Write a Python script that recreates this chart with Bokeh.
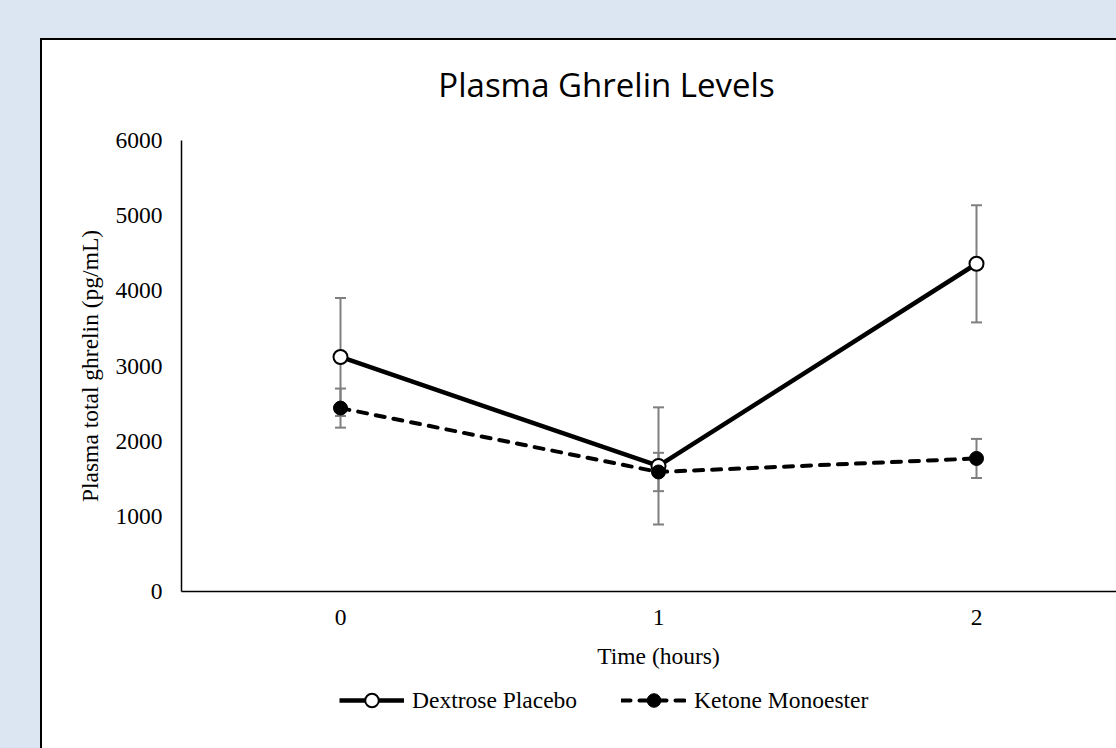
from bokeh.plotting import figure
from bokeh.models import (FactorRange, Range1d, FixedTicker, Whisker, TeeHead,
                          ColumnDataSource, Legend, LegendItem, Div, Spacer)
from bokeh.layouts import column
from bokeh.embed import file_html
from bokeh.resources import INLINE

# ---- data ----
title_text = "Plasma Ghrelin Levels"
series_names = ["Dextrose Placebo", "Ketone Monoester"]
time_labels = ["0", "1", "2"]
placebo_mean = [3120, 1670, 4360]
placebo_err = [785, 780, 780]
ketone_mean = [2440, 1590, 1770]
ketone_err = [260, 255, 260]
y_ticks = [0, 1000, 2000, 3000, 4000, 5000, 6000]

SERIF = "Liberation Serif"
FS = "23.5px"
FIG_W = 1119

title_div = Div(text=title_text, width=FIG_W, height=70,
                styles={"font-family": "'Open Sans'", "font-size": "33px",
                        "text-align": "center", "line-height": "60px",
                        "padding-top": "10px",
                        "color": "black", "background-color": "white"})

p = figure(x_range=FactorRange(*time_labels), y_range=Range1d(0, 6000),
           frame_width=954, frame_height=451,
           min_border_left=139, min_border_top=20, min_border_right=26,
           min_border_bottom=95,
           output_backend="svg", toolbar_location=None,
           background_fill_color="white", border_fill_color=None)
p.outline_line_color = None
p.grid.visible = False

# axes
for ax in (p.xaxis, p.yaxis):
    ax.axis_line_color = "black"
    ax.axis_line_width = 1.5
    ax.major_tick_line_color = None
    ax.minor_tick_line_color = None
    ax.major_tick_out = 0
    ax.major_tick_in = 0
    ax.major_label_text_font = SERIF
    ax.major_label_text_font_size = FS
    ax.major_label_text_color = "black"
    ax.axis_label_text_font = SERIF
    ax.axis_label_text_font_size = FS
    ax.axis_label_text_font_style = "normal"
    ax.axis_label_text_color = "black"
p.yaxis.ticker = FixedTicker(ticks=y_ticks)
p.yaxis.major_label_standoff = 19
p.yaxis.axis_label = "Plasma total ghrelin (pg/mL)"
p.yaxis.axis_label_standoff = 10
p.xaxis.axis_label = "Time (hours)"
p.xaxis.major_label_standoff = 18
p.xaxis.axis_label_standoff = 15

src = ColumnDataSource(dict(
    t=time_labels,
    pm=placebo_mean,
    pu=[m + e for m, e in zip(placebo_mean, placebo_err)],
    pl=[m - e for m, e in zip(placebo_mean, placebo_err)],
    km=ketone_mean,
    ku=[m + e for m, e in zip(ketone_mean, ketone_err)],
    kl=[m - e for m, e in zip(ketone_mean, ketone_err)],
))

GRAY = "#7f7f7f"
for up, lo in (("pu", "pl"), ("ku", "kl")):
    w = Whisker(source=src, base="t", upper=up, lower=lo,
                line_color=GRAY, line_width=2,
                upper_head=TeeHead(size=11, line_color=GRAY, line_width=2),
                lower_head=TeeHead(size=11, line_color=GRAY, line_width=2),
                level="underlay")
    p.add_layout(w)

PL_LINE = dict(line_color="black", line_width=4.5)
PL_PTS = dict(size=14, fill_color="white", line_color="black", line_width=2)
K_LINE = dict(line_color="black", line_width=4, line_dash="9 9", line_cap="round")
K_PTS = dict(size=14, fill_color="black", line_color="black", line_width=1)

p.line("t", "pm", source=src, **PL_LINE)
p.scatter("t", "pm", source=src, **PL_PTS)
p.line("t", "km", source=src, **K_LINE)
p.scatter("t", "km", source=src, **K_PTS)

# ---- legend strip (separate figure; its data lies outside its view) ----
LEG_H = 80
lf = figure(x_range=FactorRange(*time_labels), y_range=Range1d(-20000, -10000),
            width=FIG_W, height=LEG_H, min_border=0,
            x_axis_type=None, y_axis_type=None,
            output_backend="svg", toolbar_location=None,
            background_fill_color="white", border_fill_color="white")
lf.outline_line_color = None
lf.grid.visible = False
r1 = lf.line("t", "pm", source=src, **PL_LINE)
r2 = lf.scatter("t", "pm", source=src, **PL_PTS)
r3 = lf.line("t", "km", source=src, **K_LINE)
r4 = lf.scatter("t", "km", source=src, **K_PTS)

legend = Legend(items=[LegendItem(label=series_names[0], renderers=[r1, r2]),
                       LegendItem(label=series_names[1], renderers=[r3, r4])],
                orientation="horizontal", location=(158, 49),
                glyph_width=65, glyph_height=34, label_standoff=8, spacing=44,
                padding=0, margin=0, border_line_color=None,
                background_fill_alpha=0,
                label_text_font=SERIF, label_text_font_size=FS,
                label_text_color="black")
lf.add_layout(legend, "center")

layout = column(title_div, p, lf, Spacer(width=FIG_W, height=40), spacing=0)
layout.margin = (40, 0, 0, 42)
layout.styles = {"outline": "2px solid black", "background-color": "white"}

html = file_html(layout, INLINE)
html = html.replace("</head>",
                    "<style>html,body{background:#dce6f2;overflow:hidden;}</style></head>", 1)
open("out.html", "w").write(html)
